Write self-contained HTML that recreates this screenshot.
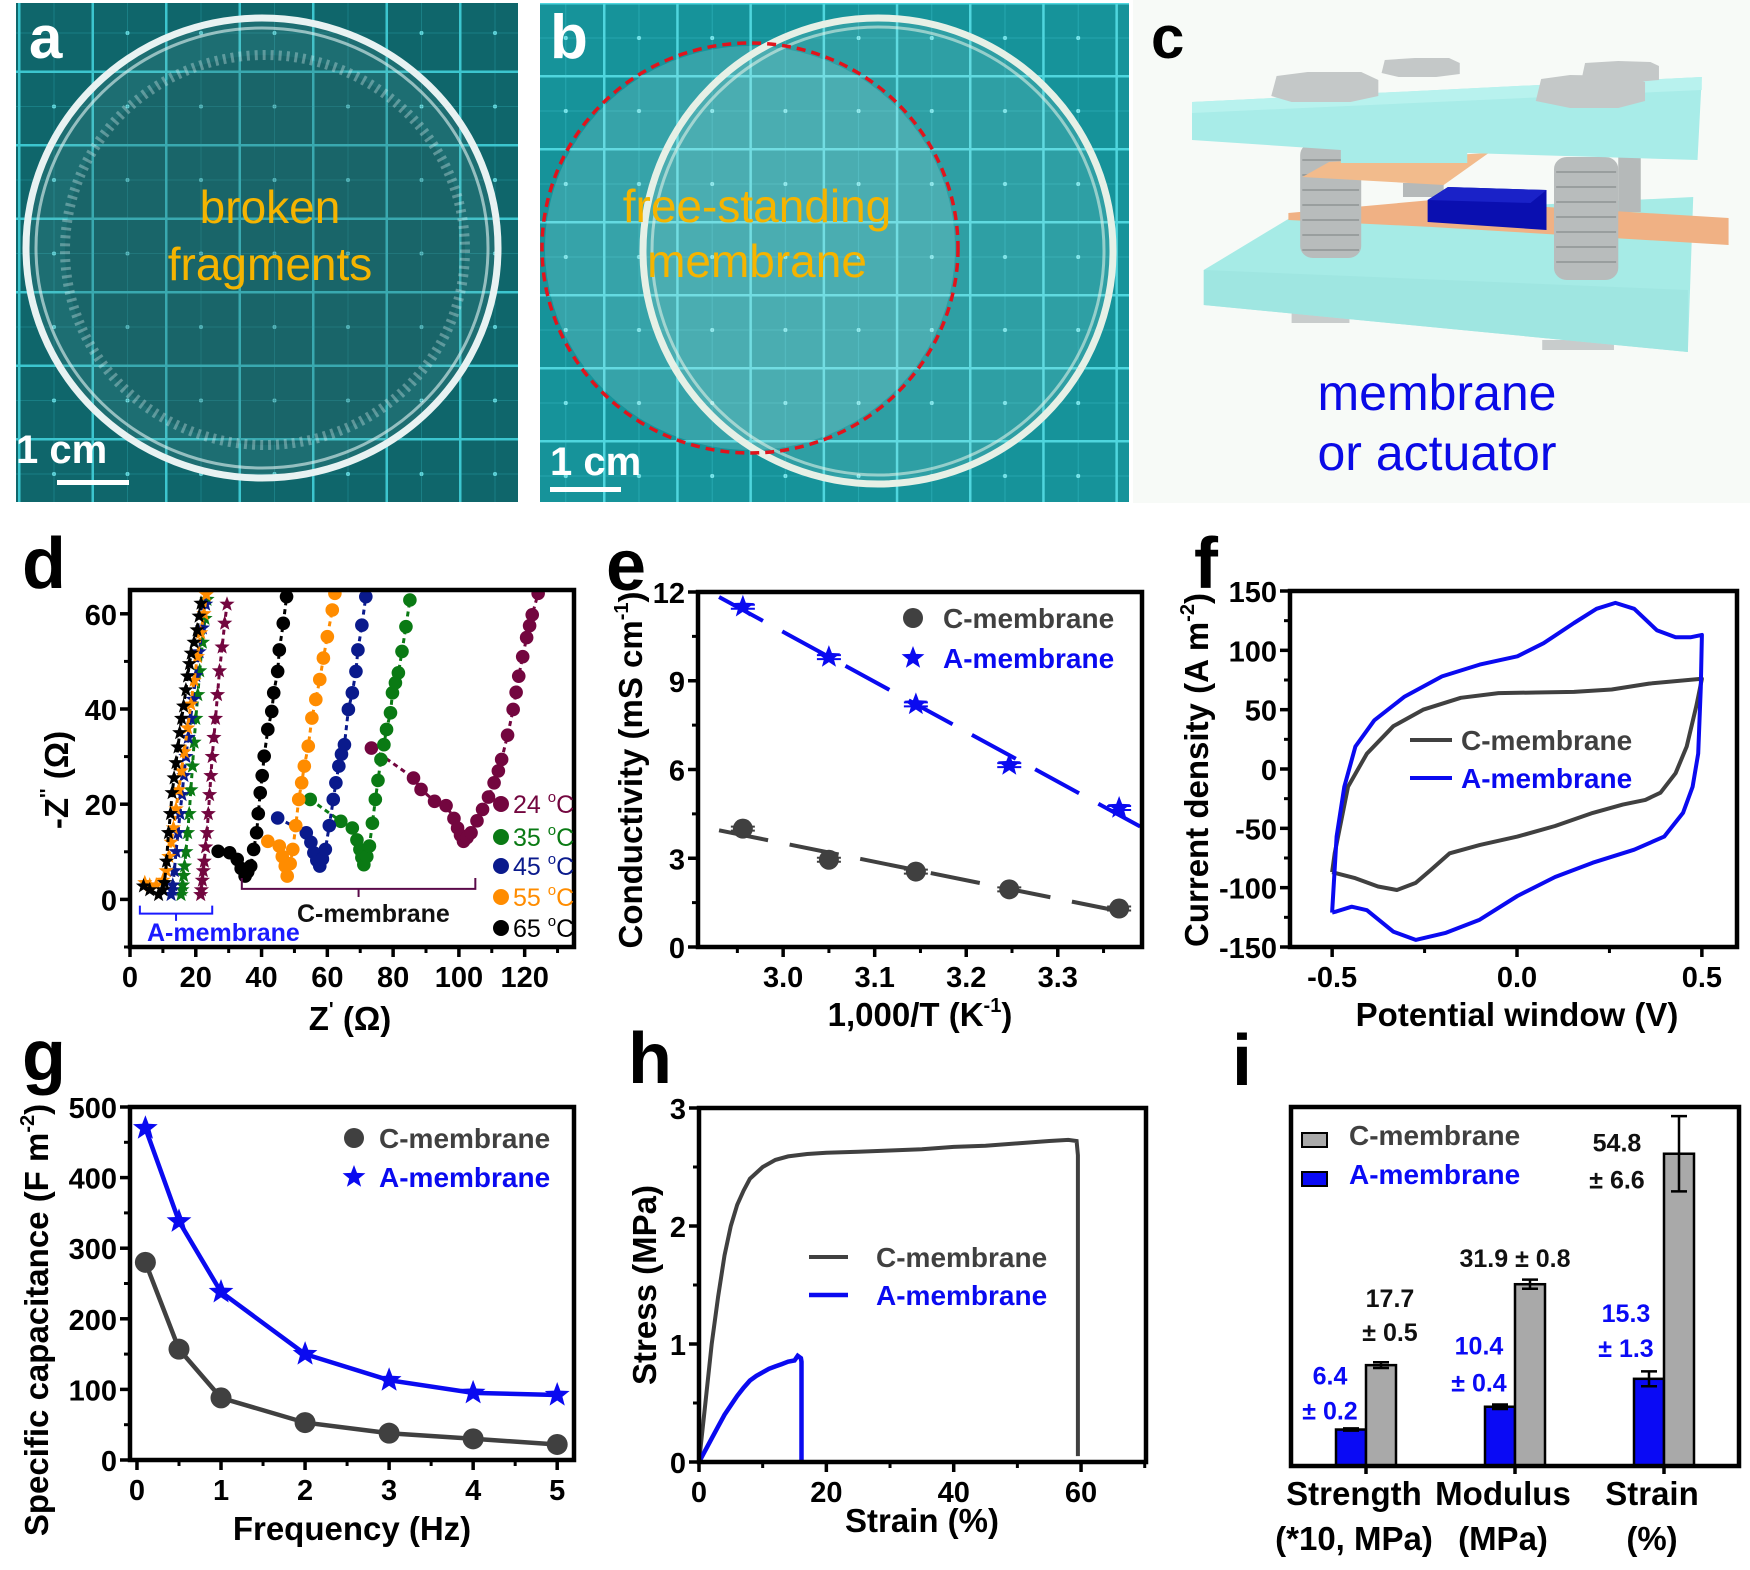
<!DOCTYPE html>
<html><head><meta charset="utf-8"><title>Membrane figure</title>
<style>
html,body{margin:0;padding:0;background:#fff;}
svg{display:block;font-family:"Liberation Sans",sans-serif;}
.tk{font-size:29px;font-weight:bold;fill:#000;}
.at{font-size:33px;font-weight:bold;fill:#000;}
.lg{font-size:28px;font-weight:bold;}
.pl{font-weight:bold;}
</style></head>
<body>
<svg id="fig" width="1750" height="1570" viewBox="0 0 1750 1570" xmlns="http://www.w3.org/2000/svg">
<defs>
<pattern id="gridA" x="18" y="-3" width="73.5" height="73.5" patternUnits="userSpaceOnUse">
<rect width="73.5" height="73.5" fill="#0f666b"/>
<circle cx="36" cy="36" r="2" fill="#6fe0e6"/>
<line x1="36" y1="0" x2="36" y2="73.5" stroke="#2aa5ad" stroke-width="0.8" opacity="0.5"/>
<line x1="0" y1="36" x2="73.5" y2="36" stroke="#2aa5ad" stroke-width="0.8" opacity="0.5"/>
<rect x="0" y="0" width="2.5" height="73.5" fill="#3cc6cf"/>
<rect x="0" y="0" width="73.5" height="2.5" fill="#3cc6cf"/>
</pattern>
<pattern id="gridB" x="603" y="2" width="73.2" height="73" patternUnits="userSpaceOnUse">
<rect width="73.2" height="73" fill="#16939a"/>
<circle cx="36" cy="36" r="2" fill="#8ff0f4"/>
<line x1="36" y1="0" x2="36" y2="73" stroke="#3cc6cf" stroke-width="0.8" opacity="0.5"/>
<line x1="0" y1="36" x2="73" y2="36" stroke="#3cc6cf" stroke-width="0.8" opacity="0.5"/>
<rect x="0" y="0" width="2.5" height="73" fill="#4fd6de"/>
<rect x="0" y="0" width="73.2" height="2.5" fill="#4fd6de"/>
</pattern>
<clipPath id="clipA"><rect x="16" y="3" width="502" height="499"/></clipPath>
<clipPath id="clipB"><rect x="540" y="3" width="589" height="499"/></clipPath>
</defs>

<!-- Panel a photo -->
<g clip-path="url(#clipA)">
<rect x="16" y="3" width="502" height="499" fill="url(#gridA)"/>
<ellipse cx="262" cy="248" rx="236" ry="230" fill="rgba(120,160,160,0.14)" stroke="#e8f2f2" stroke-width="7"/>
<ellipse cx="262" cy="248" rx="226" ry="220" fill="none" stroke="rgba(230,245,245,0.6)" stroke-width="3"/>
<ellipse cx="265" cy="250" rx="200" ry="195" fill="rgba(10,60,65,0.18)" stroke="rgba(220,240,240,0.35)" stroke-width="10" stroke-dasharray="3 5"/>
</g>
<text x="29" y="58" font-size="60" class="pl" fill="#fff">a</text>
<text x="270" y="223" font-size="46" fill="#f5b400" text-anchor="middle">broken</text>
<text x="270" y="280" font-size="46" fill="#f5b400" text-anchor="middle">fragments</text>
<text x="16" y="463" font-size="40" class="pl" fill="#fff">1 cm</text>
<rect x="57" y="480" width="72" height="5" fill="#fff"/>

<!-- Panel b photo -->
<g clip-path="url(#clipB)">
<rect x="540" y="3" width="589" height="499" fill="url(#gridB)"/>
<ellipse cx="750" cy="248" rx="205" ry="202" fill="rgba(200,240,240,0.18)"/>
<ellipse cx="878" cy="251" rx="235" ry="233" fill="rgba(220,245,240,0.12)" stroke="#e6f0e6" stroke-width="7"/>
<ellipse cx="878" cy="251" rx="226" ry="224" fill="none" stroke="rgba(235,245,235,0.55)" stroke-width="3"/>
<ellipse cx="750" cy="248" rx="208" ry="205" fill="none" stroke="#e0141c" stroke-width="3.5" stroke-dasharray="9 6"/>
</g>
<text x="550" y="58" font-size="62" class="pl" fill="#fff">b</text>
<text x="757" y="222" font-size="46" fill="#f5b400" text-anchor="middle">free-standing</text>
<text x="757" y="277" font-size="46" fill="#f5b400" text-anchor="middle">membrane</text>
<text x="550" y="475" font-size="40" class="pl" fill="#fff">1 cm</text>
<rect x="550" y="487" width="71" height="5" fill="#fff"/>

<!-- Panel c schematic -->
<rect x="1133" y="0" width="617" height="503" fill="#f7faf7"/>
<g transform="translate(1192,0) scale(1.071,1) translate(-1192,0)">
<polygon points="1285,313 1339,313 1339,323 1285,323" fill="#c8cccc"/>
<polygon points="1519,340 1586,340 1586,350 1519,350" fill="#c8cccc"/>
<polygon points="1203,270 1285,217 1660,197 1655,352 1203,305" fill="#a6ebe6"/>
<polygon points="1203,270 1655,290 1655,352 1203,305" fill="#9fe6e1"/>
<rect x="1590" y="157" width="21" height="55" fill="#b5b9b9"/>
<rect x="1389" y="183" width="38" height="14" fill="#b5b9b9"/>
<polygon points="1282,213 1416,200 1693,218 1693,245 1416,227 1282,220" fill="#f0b184"/>
<polygon points="1412,200 1431,187 1523,190 1523,230 1412,222" fill="#0a0fb0"/>
<polygon points="1412,200 1431,187 1523,190 1508,203" fill="#1a22c8"/>
<rect x="1293" y="143" width="57" height="115" rx="12" fill="#b8bcbc"/>
<rect x="1530" y="157" width="60" height="123" rx="12" fill="#b8bcbc"/>
<g stroke="#999e9e" stroke-width="2" fill="none">
<path d="M1295 160 h53 M1295 175 h53 M1295 190 h53 M1295 205 h53 M1295 220 h53 M1295 235 h53 M1295 250 h53"/>
<path d="M1532 172 h56 M1532 187 h56 M1532 202 h56 M1532 217 h56 M1532 232 h56 M1532 247 h56 M1532 262 h56"/>
</g>
<polygon points="1295,177 1320,162 1469,153 1427,185" fill="#f2bb8c"/>
<polygon points="1192,102 1668,77 1664,160 1449,153 1449,163 1331,163 1331,150 1192,140" fill="#a8ece8"/>
<polygon points="1192,102 1668,77 1668,90 1192,113" fill="#b8f2ee"/>
<polygon points="1271,76 1300,72 1350,72 1366,80 1366,96 1340,102 1285,102 1266,96" fill="#c4c8c8"/>
<polygon points="1372,60 1400,58 1432,58 1442,63 1442,74 1420,77 1385,77 1369,73" fill="#c4c8c8"/>
<polygon points="1518,79 1545,75 1597,76 1615,82 1615,101 1590,108 1545,108 1513,101" fill="#c4c8c8"/>
<polygon points="1559,63 1590,61 1620,62 1628,66 1628,80 1605,82 1575,82 1556,78" fill="#c4c8c8"/>
</g>
<text x="1151" y="58" font-size="60" class="pl" fill="#000">c</text>
<text x="1437" y="410" font-size="50" fill="#0a0ae6" text-anchor="middle">membrane</text>
<text x="1437" y="470" font-size="50" fill="#0a0ae6" text-anchor="middle">or actuator</text>

<g id="charts"></g>
</svg>

<script>
// ---------------- Panel d (Nyquist) data ----------------
const dTemps = ['24', '35', '45', '55', '65'];
const dColors = ['#73063f', '#0a7a14', '#0a1a8c', '#ff8c00', '#000000'];
const d24StarX = [21.5,21.7,22,22.3,22.6,23,23.4,23.8,24.2,24.6,25,25.5,26,26.6,27.2,28,28.8,29.5];
const d24StarY = [1,2,4,6,8,11,14,18,22,26,30,34,38,43,48,53,58,62];
const d35StarX = [15.5,15.8,16,16.3,16.6,17,17.5,18,18.5,19,19.5,20,20.6,21.2,22,22.8,23.4];
const d35StarY = [1,2,3,5,7,10,14,18,23,28,33,38,43,48,54,59,63];
const d45StarX = [12.5,12.8,13,13.5,14,14.6,15.2,15.8,16.4,17,17.7,18.4,19.2,20,21,22,23];
const d45StarY = [1,2,3,6,10,14,18,22,26,30,34,38,42,47,52,57,62];
const d55StarX = [4.5,6,8,10,11,11.8,12.5,13.2,14,14.8,15.6,16.5,17.5,18.5,19.5,20.5,21.5,22.5,23.2];
const d55StarY = [3.5,3,3,4,6,9,12,15,19,23,27,31,36,41,46,51,56,60,64];
const d65StarX = [4.1,6,8.7,10,10.5,11.1,11.7,12.3,12.8,13.4,14,14.6,15.1,15.7,16.3,17,17.5,18.1,18.6,19.5,20.4,21,21.6];
const d65StarY = [2.8,2,1,2,3.5,8,14,18,22.4,25.5,28.7,32,35,38,40.6,44,46.9,49.5,51.7,54,56.6,59.5,62.2];
const d24CircX = [73.4,86.2,88.5,92.6,96.1,98.5,99.6,100.5,101.4,102.5,103.7,105.5,107.2,109,110.7,112,113,114.8,116.5,117.4,118.2,119.4,120.6,121.5,122.3,124.1];
const d24CircY = [31.8,25.5,23.1,20.6,19.7,17,15,13.5,12.2,13,14,16.5,18.9,21.5,24.5,27,29.4,34.5,39.9,43.5,46.9,51,55,57.5,59.8,64.3];
const d35CircX = [54.8,64.1,67.6,69,69.9,70.5,71.1,72,72.8,73.7,74.6,75.4,76.3,77.2,78,79.2,79.8,80.7,81.6,82.7,83.9,85.1];
const d35CircY = [21,16.4,15,12.5,10.5,8.8,7.3,9,11.2,16,21,25,29.4,32.5,35.7,39.2,43.4,45.5,47.6,52.1,57.3,62.9];
const d45CircX = [44.9,53.6,55,55.9,56.8,57.7,58.5,59.4,60.6,61.8,62.6,63.5,64.3,65.2,66.4,67.6,68.7,69.3,70.5,71.7];
const d45CircY = [17.1,14,12,9.8,8.2,7,8.5,10.5,15.5,21,24.5,28,30.5,32.5,39.9,43.4,47.9,52.4,57.6,63.6];
const d55CircX = [41.9,45.4,46.3,47.2,47.8,48.7,49.5,50.4,51.3,52.2,53,54.2,55.3,56.5,57.7,58.8,60,61.5,62.3];
const d55CircY = [12.2,11.2,9,7,4.9,7.5,10.5,15.5,21,24.5,28,32.2,38.1,42,46.2,50.7,55.2,60.8,64.3];
const d65CircX = [26.8,30.3,32.6,33.8,35,35.8,36.7,37.6,38.5,39,39.6,40.2,40.8,41.9,43.1,43.7,44.9,45.4,46.6,47.6];
const d65CircY = [10.1,9.8,8.4,6.5,4.9,5.8,7,10.5,14,18,22.4,26,30.1,35.7,39.5,43.4,47.9,52.4,58,63.6];
const dXTicks = [0,20,40,60,80,100,120];
const dXLabels = ['0','20','40','60','80','100','120'];
const dYTicks = [0,20,40,60];
const dYLabels = ['0','20','40','60'];

// ---------------- Panel e (Arrhenius) data ----------------
const eX = [2.956, 3.05, 3.145, 3.247, 3.367];
const eC = [4.0, 2.95, 2.55, 1.95, 1.3];
const eA = [11.5, 9.8, 8.2, 6.15, 4.7];
const eXTicks = [3.0, 3.1, 3.2, 3.3];
const eXLabels = ['3.0', '3.1', '3.2', '3.3'];
const eYTicks = [0, 3, 6, 9, 12];
const eYLabels = ['0', '3', '6', '9', '12'];

// ---------------- Panel f (CV) data ----------------
const fCV = [-0.5,-0.493,-0.457,-0.406,-0.335,-0.254,-0.152,-0.05,0.052,0.154,0.256,0.357,0.5,0.485,0.459,0.429,0.388,0.347,0.286,0.205,0.103,0.001,-0.1,-0.182,-0.233,-0.274,-0.325,-0.376,-0.437,-0.5];
const fCJ = [-87,-71,-15,13,36,50,60,64,64.5,65,67,72,76,53,19,-3.5,-20,-26,-30,-37,-48,-57,-64,-71,-85,-96,-102,-99,-92,-87];
const fAV = [-0.5,-0.488,-0.467,-0.437,-0.386,-0.304,-0.203,-0.101,0.001,0.072,0.154,0.215,0.266,0.317,0.378,0.429,0.469,0.5,0.497,0.49,0.475,0.449,0.398,0.317,0.205,0.103,0.001,-0.101,-0.192,-0.274,-0.335,-0.406,-0.447,-0.488,-0.5];
const fAJ = [-121,-57,-15,19,41,61,78,88,95,106,123,135,140,135,117,111,111,113,69,13,-15,-37,-57,-68,-79,-91,-107,-127,-138,-144,-137,-119,-116,-120,-121];
const fXTicks = [-0.5, 0, 0.5];
const fXLabels = ['-0.5', '0.0', '0.5'];
const fYTicks = [-150,-100,-50,0,50,100,150];
const fYLabels = ['-150','-100','-50','0','50','100','150'];

// ---------------- Panel g (capacitance) data ----------------
const gFreq = [0.1, 0.5, 1, 2, 3, 4, 5];
const gC = [280, 157, 88, 53, 38, 30, 22];
const gA = [470, 338, 238, 150, 113, 95, 92];
const gXTicks = [0,1,2,3,4,5];
const gXLabels = ['0','1','2','3','4','5'];
const gYTicks = [0,100,200,300,400,500];
const gYLabels = ['0','100','200','300','400','500'];

// ---------------- Panel h (stress-strain) data ----------------
const hCStrain = [0,1,2,3,4,5,6,7,8,10,12,14,17,20,25,30,35,40,45,50,55,58,59.3,59.5,59.5];
const hCStress = [0,0.5,1.0,1.4,1.75,2.0,2.18,2.3,2.4,2.5,2.56,2.59,2.61,2.62,2.63,2.64,2.65,2.67,2.68,2.7,2.72,2.73,2.72,2.6,0.05];
const hAStrain = [0,1,2,3,4,5,6,7,8,9,10,11,12,13,14,15,15.5,16,16.1,16.1];
const hAStress = [0,0.1,0.2,0.3,0.4,0.48,0.56,0.63,0.69,0.73,0.76,0.79,0.81,0.83,0.85,0.86,0.9,0.88,0.85,0];
const hXTicks = [0,20,40,60];
const hXLabels = ['0','20','40','60'];
const hYTicks = [0,1,2,3];
const hYLabels = ['0','1','2','3'];

// ---------------- Panel i (bars) data ----------------
const iCats = ['Strength', 'Modulus', 'Strain'];
const iUnits = ['(*10, MPa)', '(MPa)', '(%)'];
const iCVals = [17.7, 31.9, 54.8];
const iCErr = [0.5, 0.8, 6.6];
const iAVals = [6.4, 10.4, 15.3];
const iAErr = [0.2, 0.4, 1.3];
const iCLabels = [['17.7','± 0.5'], ['31.9 ± 0.8'], ['54.8','± 6.6']];
const iALabels = [['6.4','± 0.2'], ['10.4','± 0.4'], ['15.3','± 1.3']];

// ---------------- drawing ----------------
const NS = 'http://www.w3.org/2000/svg';
const root = document.getElementById('charts');
function mk(tag, attrs, parent) {
  const e = document.createElementNS(NS, tag);
  for (const k in attrs) e.setAttribute(k, attrs[k]);
  (parent || root).appendChild(e);
  return e;
}
function lin(d0, d1, r0, r1) { return v => r0 + (v - d0) * (r1 - r0) / (d1 - d0); }
function starPath(cx, cy, R) {
  const r = R * 0.42; let p = '';
  for (let i = 0; i < 10; i++) {
    const a = -Math.PI / 2 + i * Math.PI / 5, rr = i % 2 ? r : R;
    p += (i ? 'L' : 'M') + (cx + rr * Math.cos(a)).toFixed(1) + ' ' + (cy + rr * Math.sin(a)).toFixed(1);
  }
  return p + 'Z';
}
function ptsStr(xs, ys, sx, sy) { return xs.map((v, i) => sx(v).toFixed(1) + ',' + sy(ys[i]).toFixed(1)).join(' '); }

function axes(g, box, sx, sy, xt, xl, xminor, yt, yl, yminor) {
  for (const v of xminor) mk('line', {x1: sx(v), y1: box.b, x2: sx(v), y2: box.b + 6, stroke: '#000', 'stroke-width': 3}, g);
  for (const v of yminor) mk('line', {x1: box.l, y1: sy(v), x2: box.l - 6, y2: sy(v), stroke: '#000', 'stroke-width': 3}, g);
  xt.forEach((v, i) => {
    const t = mk('line', {x1: sx(v), y1: box.b, x2: sx(v), y2: box.b + 10, stroke: '#000', 'stroke-width': 3.5}, g);
    
    
    const tx = mk('text', {x: sx(v), y: box.b + 40, 'text-anchor': 'middle', class: 'tk'}, g);
    tx.textContent = xl[i];
    
    
  });
  yt.forEach((v, i) => {
    const t = mk('line', {x1: box.l, y1: sy(v), x2: box.l - 10, y2: sy(v), stroke: '#000', 'stroke-width': 3.5}, g);
    
    
    const tx = mk('text', {x: box.l - 13, y: sy(v) + 11, 'text-anchor': 'end', class: 'tk'}, g);
    tx.textContent = yl[i];
    
    
  });
  const fr = mk('rect', {x: box.l, y: box.t, width: box.r - box.l, height: box.b - box.t, fill: 'none', stroke: '#000', 'stroke-width': 4.5}, g);
  
  
}
function clip(id, box) {
  const defs = document.querySelector('defs');
  const cp = mk('clipPath', {id: id}, defs);
  mk('rect', {x: box.l, y: box.t, width: box.r - box.l, height: box.b - box.t}, cp);
}
function range(a, b, s) { const r = []; for (let v = a; v <= b + 1e-9; v += s) r.push(+v.toFixed(4)); return r; }
function label(txt, x, y, size, parent) {
  const t = mk('text', {x: x, y: y, 'font-size': size, class: 'pl'}, parent);
  t.textContent = txt;
  return t;
}

// ===== Panel d =====
(function () {
  const box = {l: 130, t: 590, r: 574, b: 947};
  const sx = lin(0, 135, box.l, box.r), sy = lin(-10, 65, box.b, box.t);
  const g = mk('g', {});
  
  
  clip('clipD', box);
  const pl = mk('g', {'clip-path': 'url(#clipD)'}, g);
  const stars = [[d24StarX, d24StarY], [d35StarX, d35StarY], [d45StarX, d45StarY], [d55StarX, d55StarY], [d65StarX, d65StarY]];
  const circs = [[d24CircX, d24CircY], [d35CircX, d35CircY], [d45CircX, d45CircY], [d55CircX, d55CircY], [d65CircX, d65CircY]];
  dTemps.forEach((t, k) => {
    const col = dColors[k];
    const [cx, cy] = circs[k];
    const ln = mk('polyline', {points: ptsStr(cx, cy, sx, sy), fill: 'none', stroke: col, 'stroke-width': 3, 'stroke-dasharray': '5 4'}, pl);
    
    
    cx.forEach((v, i) => {
      const c = mk('circle', {cx: sx(v), cy: sy(cy[i]), r: 6.8, fill: col}, pl);
      
      
    });
  });
  dTemps.forEach((t, k) => {
    const col = dColors[k];
    const [xs, ys] = stars[k];
    const ln = mk('polyline', {points: ptsStr(xs, ys, sx, sy), fill: 'none', stroke: col, 'stroke-width': 3, 'stroke-dasharray': '5 4'}, pl);
    
    
    xs.forEach((v, i) => {
      const s = mk('path', {d: starPath(sx(v), sy(ys[i]), 8), fill: col}, pl);
      
      
    });
  });
  axes(g, box, sx, sy, dXTicks, dXLabels, range(10, 130, 20), dYTicks, dYLabels, range(-10, 50, 20));
  const br1 = mk('path', {d: `M${sx(3)} ${sy(-1.3)} V${sy(-3)} H${sx(25)} V${sy(-1.3)} M${sx(14)} ${sy(-3)} V${sy(-4.5)}`, fill: 'none', stroke: '#1a1aff', 'stroke-width': 2}, g);
  
  
  const br2 = mk('path', {d: `M${sx(34)} ${sy(4.5)} V${sy(2.2)} H${sx(105)} V${sy(4.5)} M${sx(69.5)} ${sy(2.2)} V${sy(0.5)}`, fill: 'none', stroke: '#5a0a4a', 'stroke-width': 2}, g);
  
  
  const ta = mk('text', {x: 147, y: 941, 'font-size': 25, 'font-weight': 'bold', fill: '#1a1aff'}, g);
  ta.textContent = 'A-membrane';
  
  
  const tc = mk('text', {x: 297, y: 922, 'font-size': 25, 'font-weight': 'bold', fill: '#111'}, g);
  tc.textContent = 'C-membrane';
  
  
  const legY = [804, 837, 866, 897, 928];
  dTemps.forEach((t, k) => {
    const c = mk('circle', {cx: 501, cy: legY[k], r: 8, fill: dColors[k]}, g);
    
    
    const tx = mk('text', {x: 513, y: legY[k] + 9, 'font-size': 25, fill: dColors[k]}, g);
    tx.innerHTML = t + ' <tspan font-size="15" dy="-11">o</tspan><tspan dy="11">C</tspan>';
    
    
  });
  const xt = mk('text', {x: 350, y: 1030, 'text-anchor': 'middle', class: 'at'}, g);
  xt.innerHTML = 'Z<tspan font-size="20" dy="-14">\'</tspan><tspan dy="14"> (Ω)</tspan>';
  
  
  const yt = mk('text', {x: 0, y: 0, 'text-anchor': 'middle', class: 'at', transform: 'translate(68,780) rotate(-90)'}, g);
  yt.innerHTML = '-Z<tspan font-size="20" dy="-14">\'\'</tspan><tspan dy="14"> (Ω)</tspan>';
  
  
  const pl2 = label('d', 22, 588, 72, g);
  
  
})();

// ===== Panel e =====
(function () {
  const box = {l: 698, t: 592, r: 1142, b: 947};
  const sx = lin(2.907, 3.392, box.l, box.r), sy = lin(0, 12, box.b, box.t);
  const g = mk('g', {});
  
  
  clip('clipE', box);
  const pl = mk('g', {'clip-path': 'url(#clipE)'}, g);
  function fit(xs, ys) {
    const n = xs.length, mx = xs.reduce((a, b) => a + b) / n, my = ys.reduce((a, b) => a + b) / n;
    let sxy = 0, sxx = 0;
    xs.forEach((x, i) => { sxy += (x - mx) * (ys[i] - my); sxx += (x - mx) * (x - mx); });
    const m = sxy / sxx; return [m, my - m * mx];
  }
  [[eC, '#404040', 'c'], [eA, '#0a0af0', 'a']].forEach(([ys, col, key]) => {
    const [m, b] = fit(eX, ys);
    const x0 = 2.93, x1 = 3.39;
    const ln = mk('line', {x1: sx(x0), y1: sy(m * x0 + b), x2: sx(x1), y2: sy(m * x1 + b), stroke: col, 'stroke-width': 4, 'stroke-dasharray': '50 22'}, pl);
    
    
    eX.forEach((v, i) => {
      const eb = mk('path', {d: `M${sx(v) - 12} ${sy(ys[i]) - 2} h24 M${sx(v) - 12} ${sy(ys[i]) + 2} h24`, stroke: col, 'stroke-width': 2}, pl);
      
      
      let mkr;
      if (key === 'c') mkr = mk('circle', {cx: sx(v), cy: sy(ys[i]), r: 10, fill: col}, pl);
      else mkr = mk('path', {d: starPath(sx(v), sy(ys[i]), 12), fill: col}, pl);
      
      
    });
  });
  axes(g, box, sx, sy, eXTicks, eXLabels, range(2.95, 3.35, 0.1), eYTicks, eYLabels, range(1.5, 10.5, 3));
  const c1 = mk('circle', {cx: 913, cy: 618, r: 10, fill: '#404040'}, g);
  
  
  const t1 = mk('text', {x: 943, y: 628, class: 'lg', fill: '#404040'}, g);
  t1.textContent = 'C-membrane';
  
  
  const s2 = mk('path', {d: starPath(913, 658, 12), fill: '#0a0af0'}, g);
  
  
  const t2 = mk('text', {x: 943, y: 668, class: 'lg', fill: '#0a0af0'}, g);
  t2.textContent = 'A-membrane';
  
  
  const xt = mk('text', {x: 920, y: 1026, 'text-anchor': 'middle', class: 'at'}, g);
  xt.innerHTML = '1,000/T (K<tspan font-size="20" dy="-14">-1</tspan><tspan dy="14">)</tspan>';
  
  
  const yt = mk('text', {x: 0, y: 0, 'text-anchor': 'middle', class: 'at', transform: 'translate(642,770) rotate(-90)'}, g);
  yt.innerHTML = 'Conductivity (mS cm<tspan font-size="20" dy="-14">-1</tspan><tspan dy="14">)</tspan>';
  
  
  const lb = label('e', 606, 590, 72, g);
  
  
})();

// ===== Panel f =====
(function () {
  const box = {l: 1290, t: 591, r: 1737, b: 947};
  const sx = lin(-0.614, 0.595, box.l, box.r), sy = lin(-150, 150, box.b, box.t);
  const g = mk('g', {});
  
  
  const c = mk('polyline', {points: ptsStr(fCV, fCJ, sx, sy), fill: 'none', stroke: '#404040', 'stroke-width': 4, 'stroke-linejoin': 'round'}, g);
  
  
  const a = mk('polyline', {points: ptsStr(fAV, fAJ, sx, sy), fill: 'none', stroke: '#0a0af0', 'stroke-width': 4, 'stroke-linejoin': 'round'}, g);
  
  
  axes(g, box, sx, sy, fXTicks, fXLabels, [-0.25, 0.25], fYTicks, fYLabels, range(-125, 125, 50));
  const l1 = mk('line', {x1: 1410, y1: 740, x2: 1452, y2: 740, stroke: '#404040', 'stroke-width': 4}, g);
  
  
  const t1 = mk('text', {x: 1461, y: 750, class: 'lg', fill: '#404040'}, g);
  t1.textContent = 'C-membrane';
  
  
  const l2 = mk('line', {x1: 1410, y1: 778, x2: 1452, y2: 778, stroke: '#0a0af0', 'stroke-width': 4}, g);
  
  
  const t2 = mk('text', {x: 1461, y: 788, class: 'lg', fill: '#0a0af0'}, g);
  t2.textContent = 'A-membrane';
  
  
  const xt = mk('text', {x: 1517, y: 1026, 'text-anchor': 'middle', class: 'at'}, g);
  xt.textContent = 'Potential window (V)';
  
  
  const yt = mk('text', {x: 0, y: 0, 'text-anchor': 'middle', class: 'at', transform: 'translate(1208,770) rotate(-90)'}, g);
  yt.innerHTML = 'Current density (A m<tspan font-size="20" dy="-14">-2</tspan><tspan dy="14">)</tspan>';
  
  
  const lb = label('f', 1194, 588, 72, g);
  
  
})();

// ===== Panel g =====
(function () {
  const box = {l: 130, t: 1107, r: 574, b: 1460};
  const sx = lin(-0.083, 5.2, box.l, box.r), sy = lin(0, 500, box.b, box.t);
  const g = mk('g', {});
  
  
  [[gC, '#404040', 'c'], [gA, '#0a0af0', 'a']].forEach(([ys, col, key]) => {
    const ln = mk('polyline', {points: ptsStr(gFreq, ys, sx, sy), fill: 'none', stroke: col, 'stroke-width': 4.5}, g);
    
    
    gFreq.forEach((v, i) => {
      let m;
      if (key === 'c') m = mk('circle', {cx: sx(v), cy: sy(ys[i]), r: 10.5, fill: col}, g);
      else m = mk('path', {d: starPath(sx(v), sy(ys[i]), 13), fill: col}, g);
      
      
    });
  });
  axes(g, box, sx, sy, gXTicks, gXLabels, range(0.5, 4.5, 1), gYTicks, gYLabels, range(50, 450, 100));
  const c1 = mk('circle', {cx: 354, cy: 1138, r: 10, fill: '#404040'}, g);
  
  
  const t1 = mk('text', {x: 379, y: 1148, class: 'lg', fill: '#404040'}, g);
  t1.textContent = 'C-membrane';
  
  
  const s2 = mk('path', {d: starPath(354, 1177, 12), fill: '#0a0af0'}, g);
  
  
  const t2 = mk('text', {x: 379, y: 1187, class: 'lg', fill: '#0a0af0'}, g);
  t2.textContent = 'A-membrane';
  
  
  const xt = mk('text', {x: 352, y: 1540, 'text-anchor': 'middle', class: 'at'}, g);
  xt.textContent = 'Frequency (Hz)';
  
  
  const yt = mk('text', {x: 0, y: 0, 'text-anchor': 'middle', class: 'at', transform: 'translate(48,1320) rotate(-90)'}, g);
  yt.innerHTML = 'Specific capacitance (F m<tspan font-size="20" dy="-14">-2</tspan><tspan dy="14">)</tspan>';
  
  
  const lb = label('g', 22, 1080, 72, g);
  
  
})();

// ===== Panel h =====
(function () {
  const box = {l: 699, t: 1108, r: 1146, b: 1462};
  const sx = lin(0, 70.2, box.l, box.r), sy = lin(0, 3, box.b, box.t);
  const g = mk('g', {});
  
  
  const c = mk('polyline', {points: ptsStr(hCStrain, hCStress, sx, sy), fill: 'none', stroke: '#404040', 'stroke-width': 4}, g);
  
  
  const a = mk('polyline', {points: ptsStr(hAStrain, hAStress, sx, sy), fill: 'none', stroke: '#0a0af0', 'stroke-width': 4.5}, g);
  
  
  axes(g, box, sx, sy, hXTicks, hXLabels, range(10, 70, 20), hYTicks, hYLabels, range(0.5, 2.5, 1));
  const l1 = mk('line', {x1: 809, y1: 1257, x2: 848, y2: 1257, stroke: '#404040', 'stroke-width': 4}, g);
  
  
  const t1 = mk('text', {x: 876, y: 1267, class: 'lg', fill: '#404040'}, g);
  t1.textContent = 'C-membrane';
  
  
  const l2 = mk('line', {x1: 809, y1: 1295, x2: 848, y2: 1295, stroke: '#0a0af0', 'stroke-width': 4.5}, g);
  
  
  const t2 = mk('text', {x: 876, y: 1305, class: 'lg', fill: '#0a0af0'}, g);
  t2.textContent = 'A-membrane';
  
  
  const xt = mk('text', {x: 922, y: 1532, 'text-anchor': 'middle', class: 'at'}, g);
  xt.textContent = 'Strain (%)';
  
  
  const yt = mk('text', {x: 0, y: 0, 'text-anchor': 'middle', class: 'at', transform: 'translate(656,1285) rotate(-90)'}, g);
  yt.textContent = 'Stress (MPa)';
  
  
  const lb = label('h', 628, 1083, 72, g);
  
  
})();

// ===== Panel i =====
(function () {
  const box = {l: 1291, t: 1107, r: 1739, b: 1466};
  const sy = lin(0, 63, box.b, box.t);
  const band = i => box.l + 75 + i * 149;
  const bw = 30;
  const g = mk('g', {});
  
  
  const labOffC = [[-58, -24], [-17], [-2, 35]];
  const labDxC = [9, -15, -62];
  const labOffA = [[-45, -10], [-52, -15], [-57, -22]];
  const labDxA = [-21, -21, -23];
  iCats.forEach((cat, i) => {
    const cx = band(i);
    [[iAVals[i], iAErr[i], '#0a0af5', cx - bw, 'a'], [iCVals[i], iCErr[i], '#a9a9a9', cx, 'c']].forEach(([v, e, col, x, key]) => {
      const r = mk('rect', {x: x, y: sy(v), width: bw, height: box.b - sy(v), fill: col, stroke: '#000', 'stroke-width': 2.5}, g);
      
      
      const ex = x + bw / 2;
      const eb = mk('path', {d: `M${ex} ${sy(v + e)} V${sy(v - e)} M${ex - 8} ${sy(v + e)} h16 M${ex - 8} ${sy(v - e)} h16`, stroke: '#000', 'stroke-width': 2.5, fill: 'none'}, g);
      
      
    });
    iCLabels[i].forEach((txt, j) => {
      const t = mk('text', {x: cx + bw / 2 + labDxC[i], y: sy(iCVals[i]) + labOffC[i][j], 'text-anchor': 'middle', 'font-size': 25, 'font-weight': 'bold', fill: '#111'}, g);
      t.textContent = txt;
      
      
    });
    iALabels[i].forEach((txt, j) => {
      const t = mk('text', {x: cx - bw / 2 + labDxA[i], y: sy(iAVals[i]) + labOffA[i][j], 'text-anchor': 'middle', 'font-size': 25, 'font-weight': 'bold', fill: '#0a0af5'}, g);
      t.textContent = txt;
      
      
    });
    const tk = mk('line', {x1: cx, y1: box.b, x2: cx, y2: box.b + 8, stroke: '#000', 'stroke-width': 3.5}, g);
    
    
    const c1 = mk('text', {x: cx - 12, y: 1505, 'text-anchor': 'middle', class: 'at'}, g);
    c1.textContent = cat;
    
    
    const c2 = mk('text', {x: cx - 12, y: 1550, 'text-anchor': 'middle', class: 'at'}, g);
    c2.textContent = iUnits[i];
    
    
  });
  const fr = mk('rect', {x: box.l, y: box.t, width: box.r - box.l, height: box.b - box.t, fill: 'none', stroke: '#000', 'stroke-width': 4.5}, g);
  
  
  const r1 = mk('rect', {x: 1302, y: 1133, width: 25, height: 14, fill: '#a9a9a9', stroke: '#000', 'stroke-width': 2}, g);
  
  
  const t1 = mk('text', {x: 1349, y: 1145, class: 'lg', fill: '#404040'}, g);
  t1.textContent = 'C-membrane';
  
  
  const r2 = mk('rect', {x: 1302, y: 1172, width: 25, height: 14, fill: '#0a0af5', stroke: '#000', 'stroke-width': 2}, g);
  
  
  const t2 = mk('text', {x: 1349, y: 1184, class: 'lg', fill: '#0a0af5'}, g);
  t2.textContent = 'A-membrane';
  
  
  const lb = label('i', 1232, 1085, 72, g);
  
  
})();
</script>
</body></html>
